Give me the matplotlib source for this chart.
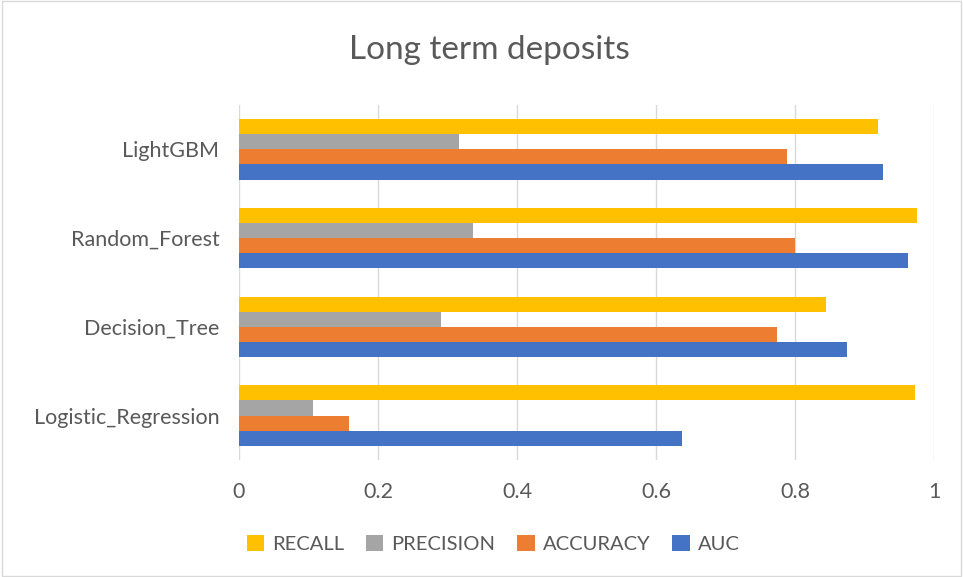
import numpy as np
import matplotlib.pyplot as plt
from matplotlib.patches import Rectangle

models = ['Logistic_Regression', 'Decision_Tree', 'Random_Forest', 'LightGBM']
auc = [0.637, 0.875, 0.963, 0.926]
accuracy = [0.159, 0.774, 0.800, 0.789]
precision = [0.107, 0.291, 0.337, 0.316]
recall = [0.973, 0.845, 0.975, 0.920]

plt.rcParams['font.family'] = ['Lato', 'DejaVu Sans']
txt = '#595959'

fig = plt.figure(figsize=(9.63, 5.77), dpi=100)
ax = fig.add_axes([0.248, 0.203, 0.722, 0.615])

y = np.arange(len(models))
h = 0.17
series = [('AUC', auc, '#4472C4', -1.5),
          ('ACCURACY', accuracy, '#ED7D31', -0.5),
          ('PRECISION', precision, '#A5A5A5', 0.5),
          ('RECALL', recall, '#FFC000', 1.5)]
bars = {}
for name, vals, col, off in series:
    bars[name] = ax.barh(y + off * h, vals, height=h, color=col, label=name, zorder=3)

ax.set_xlim(0, 1)
ax.set_ylim(-0.5, 3.5)
ax.set_xticks(np.arange(0, 1.01, 0.2))
ax.set_xticklabels(['0', '0.2', '0.4', '0.6', '0.8', '1'])
ax.set_yticks(y)
ax.set_yticklabels(models)
ax.tick_params(length=0, colors=txt, labelsize=15.5)
ax.tick_params(axis='x', pad=16)
ax.tick_params(axis='y', pad=14)
ax.grid(axis='x', color='#d9d9d9', linewidth=1, zorder=0)
for s in ax.spines.values():
    s.set_visible(False)

fig.text(0.508, 0.913, 'Long term deposits', fontsize=24, color=txt, ha='center', va='center')

order = ['RECALL', 'PRECISION', 'ACCURACY', 'AUC']
fig.legend([bars[k] for k in order], order, loc='center', bbox_to_anchor=(0.512, 0.057),
           ncol=4, frameon=False, fontsize=14.5, labelcolor=txt,
           handlelength=0.85, handleheight=0.85, handletextpad=0.4, columnspacing=1.1)

fig.patches.append(Rectangle((0.002, 0.002), 0.996, 0.996, transform=fig.transFigure,
                             fill=False, edgecolor='#d9d9d9', linewidth=1))

fig.savefig('out.png', dpi=100)
